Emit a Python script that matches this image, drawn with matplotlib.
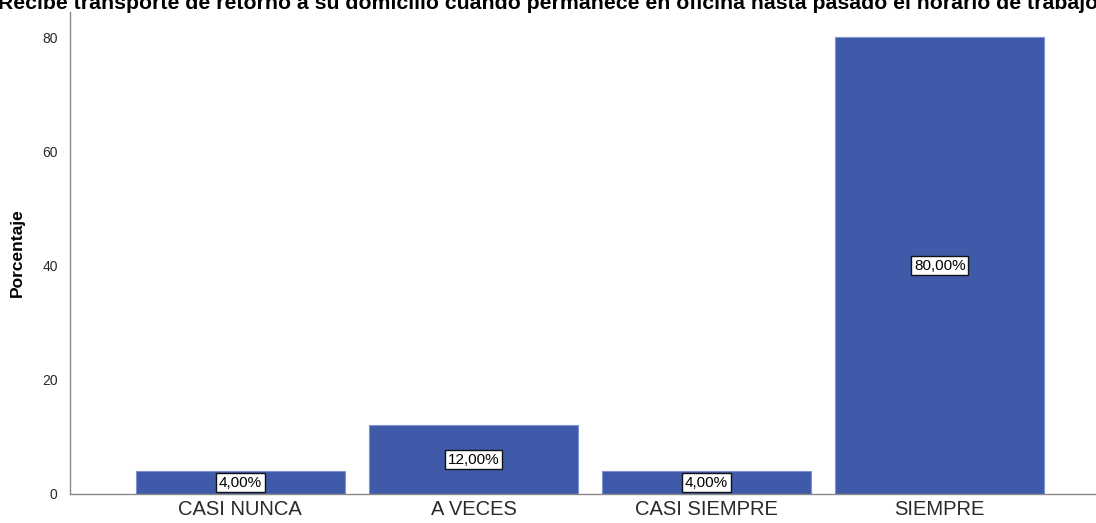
import matplotlib
matplotlib.use("Agg")
import matplotlib.pyplot as plt

categories = ["CASI NUNCA", "A VECES", "CASI SIEMPRE", "SIEMPRE"]
percentages = [4.0, 12.0, 4.0, 80.0]
yticks = [0, 20, 40, 60, 80]
title = ("¿Recibe transporte de retorno a su domicilio cuando permanece "
         "en oficina hasta pasado el horario de trabajo?")

plt.rcParams['font.family'] = ['Liberation Sans', 'DejaVu Sans']

fig = plt.figure(figsize=(10.96, 5.23), dpi=100)
ax = fig.add_axes([0.064, 0.0555, 0.936, 0.9215])

x = list(range(len(categories)))
ax.bar(x, percentages, width=0.897, color='#3F5AA8', edgecolor='#7E93CF',
       linewidth=0.8, zorder=2)

for xi, v in zip(x, percentages):
    lbl = f"{v:.2f}".replace('.', ',') + "%"
    ax.text(xi, v / 2, lbl, ha='center', va='center', fontsize=11,
            bbox=dict(boxstyle='square,pad=0.18', facecolor='white',
                      edgecolor='#111111', linewidth=1.0), zorder=3)

ax.set_xlim(-0.73, 3.67)
ax.set_ylim(0, 84.4)
ax.set_xticks(x)
ax.set_xticklabels(categories, fontsize=14.5, color='#2a2a2a')
ax.set_yticks(yticks)
ax.tick_params(axis='y', length=0, labelsize=10, pad=9, labelcolor='#2a2a2a')
ax.tick_params(axis='x', length=0, pad=4)
ax.set_ylabel("Porcentaje", fontsize=12.5, fontweight='bold', labelpad=12)

for side in ('top', 'right'):
    ax.spines[side].set_visible(False)
for side in ('left', 'bottom'):
    ax.spines[side].set_color('#8a8a8a')
    ax.spines[side].set_linewidth(1.0)

fig.text(0.5, 0.993, title, ha='center', va='center', fontsize=15.3,
         fontweight='bold')

fig.savefig("out.png", dpi=100)
